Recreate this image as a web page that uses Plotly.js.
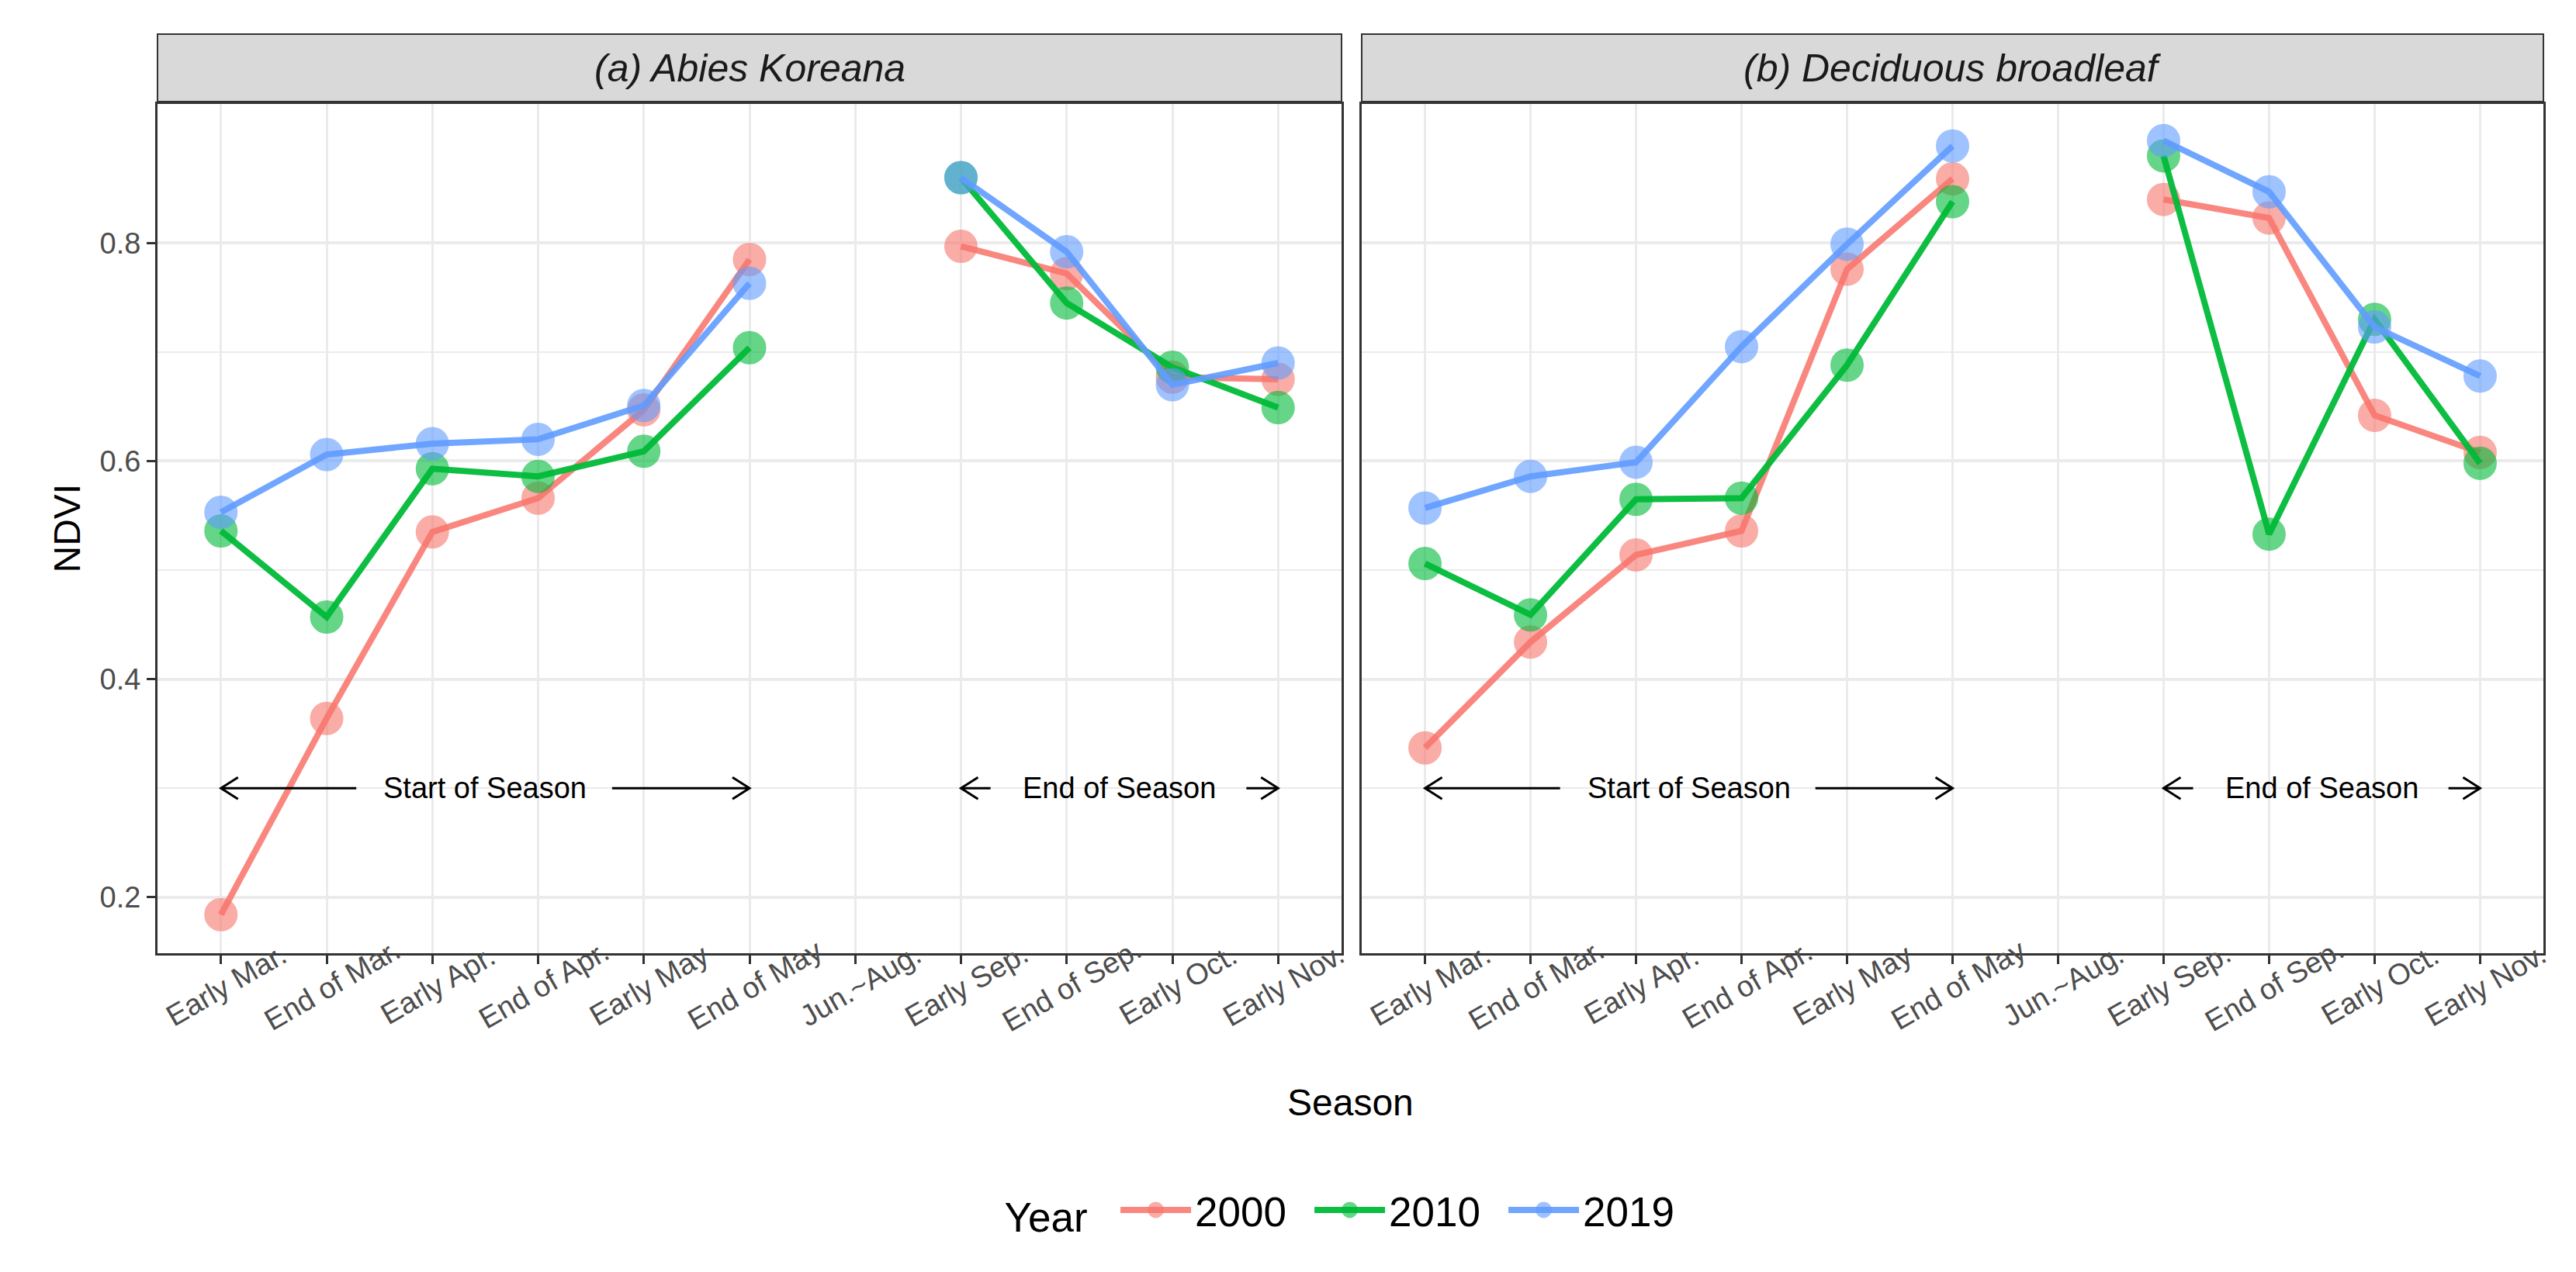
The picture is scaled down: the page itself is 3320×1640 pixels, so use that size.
<!DOCTYPE html>
<html>
<head>
<meta charset="utf-8">
<script src="https://cdn.plot.ly/plotly-3.0.1.min.js"></script>
<style>html,body{margin:0;padding:0;background:#fff;}#chart{width:3320px;height:1640px;}</style>
</head>
<body>
<div id="chart"></div>
<script>
// ---- data ----
const seasons = ["Early Mar.","End of Mar.","Early Apr.","End of Apr.","Early May","End of May","Jun.~Aug.","Early Sep.","End of Sep.","Early Oct.","Early Nov."];
const years = ["2000","2010","2019"];
const panelTitles = ["(a) Abies Koreana","(b) Deciduous broadleaf"];

const abies2000 = [0.184,0.364,0.535,0.566,0.647,0.785,null,0.797,0.772,0.677,0.675];
const abies2010 = [0.536,0.457,0.593,0.586,0.609,0.704,null,0.860,0.745,0.686,0.649];
const abies2019 = [0.553,0.606,0.616,0.620,0.651,0.763,null,0.860,0.792,0.670,0.690];

const decid2000 = [0.337,0.434,0.514,0.536,0.776,0.859,null,0.840,0.823,0.642,0.608];
const decid2010 = [0.506,0.459,0.565,0.566,0.688,0.838,null,0.880,0.533,0.730,0.598];
const decid2019 = [0.557,0.586,0.599,0.705,0.799,0.889,null,0.894,0.847,0.723,0.678];

const yTicks = [0.2,0.4,0.6,0.8];
const yMinor = [0.3,0.5,0.7];
const seasonLabels = ["Start of Season","End of Season"];
const seasonSpans = [[0,5],[7,10]];        // category index spans of the arrows
const seasonTextCenter = [2.5,8.5];
const seasonGaps = [[1.28,3.7],[7.28,9.7]]; // where line is interrupted by the text
const arrowY = 0.3;

// ---- style ----
const baseCols = ["#F8766D","#00BA38","#619CFF"];
const lineCols = ["rgba(248,118,109,0.88)","rgba(0,186,56,0.95)","rgba(97,156,255,0.9)"];
const FONT = "Liberation Sans, Arial, sans-serif";

const H = 1640, W = 3320;
const domA = [203/W, 1729/W], domB = [1755/W, 3278/W];
const domY = [1-1229/H, 1-134/H];
const xRange = [-0.6, 10.6], yRange = [0.1486, 0.9276];

const panelData = [[abies2000,abies2010,abies2019],[decid2000,decid2010,decid2019]];
const traces = [];
panelData.forEach((series,p)=>{
  series.forEach((vals,i)=>{
    traces.push({
      type:"scatter", mode:"lines+markers",
      x: seasons, y: vals,
      xaxis: p===0?"x":"x2", yaxis: p===0?"y":"y2",
      name: years[i], legendgroup: years[i], showlegend: p===0,
      connectgaps:false,
      line:{color:lineCols[i], width:8},
      marker:{color:baseCols[i], opacity:0.6, size:38, line:{color:baseCols[i], width:5}},
      hoverinfo:"skip"
    });
  });
});

const axX = (dom, anchor)=>({
  domain: dom, anchor: anchor, type:"category",
  categoryorder:"array", categoryarray: seasons,
  range: xRange, showgrid:true, gridcolor:"#EBEBEB", gridwidth:3,
  showline:true, mirror:true, linecolor:"#333333", linewidth:3,
  ticks:"outside", ticklen:11, tickwidth:3, tickcolor:"#333333",
  showticklabels:false, zeroline:false, fixedrange:true
});
const axY = (anchor, labels)=>({
  domain: domY, anchor: anchor, range: yRange,
  tickmode:"array", tickvals: yTicks, ticktext: yTicks.map(v=>v.toFixed(1)),
  showgrid:true, gridcolor:"#EBEBEB", gridwidth:4,
  minor:{tickmode:"array", tickvals:yMinor, showgrid:true, gridcolor:"#EBEBEB", gridwidth:2, ticks:""},
  showline:true, mirror:true, linecolor:"#333333", linewidth:3,
  ticks: labels?"outside":"", ticklen:11, tickwidth:3, tickcolor:"#333333",
  showticklabels: labels, tickfont:{family:FONT, size:38, color:"#4D4D4D"},
  zeroline:false, fixedrange:true
});

const shapes = [], annotations = [];
// strips
[domA, domB].forEach((d,p)=>{
  shapes.push({type:"rect", xref:"paper", yref:"paper", x0:d[0], x1:d[1], y0:1-131/H, y1:1-44/H,
    fillcolor:"#D9D9D9", line:{color:"#333333", width:2}, layer:"below"});
  annotations.push({xref:"paper", yref:"paper", x:(d[0]+d[1])/2, y:1-88/H, text:panelTitles[p],
    showarrow:false, xanchor:"center", yanchor:"middle",
    font:{family:FONT, size:50, color:"#1A1A1A", style:"italic"}});
});
// season arrows
["x","x2"].forEach((xr,p)=>{
  const yr = p===0?"y":"y2";
  seasonLabels.forEach((lab,k)=>{
    const sp = seasonSpans[k], gp = seasonGaps[k];
    shapes.push({type:"line", xref:xr, yref:yr, x0:sp[0], x1:gp[0], y0:arrowY, y1:arrowY, line:{color:"#000", width:3}});
    shapes.push({type:"line", xref:xr, yref:yr, x0:gp[1], x1:sp[1], y0:arrowY, y1:arrowY, line:{color:"#000", width:3}});
    shapes.push({type:"path", xref:xr, yref:yr, xsizemode:"pixel", ysizemode:"pixel", xanchor:sp[0], yanchor:arrowY,
      path:"M 22 14 L 0 0 L 22 -14", line:{color:"#000", width:3}});
    shapes.push({type:"path", xref:xr, yref:yr, xsizemode:"pixel", ysizemode:"pixel", xanchor:sp[1], yanchor:arrowY,
      path:"M -22 14 L 0 0 L -22 -14", line:{color:"#000", width:3}});
    annotations.push({xref:xr, yref:yr, x:seasonTextCenter[k], y:arrowY, text:lab, showarrow:false,
      xanchor:"center", yanchor:"middle", font:{family:FONT, size:38, color:"#000"}});
  });
  // rotated x tick labels, centred on ticks like ggplot
  seasons.forEach((s,i)=>{
    annotations.push({xref:xr, yref:"paper", x:i, y:1-1270/H, xshift:7, text:s, textangle:-30,
      showarrow:false, xanchor:"center", yanchor:"middle", font:{family:FONT, size:38, color:"#4D4D4D"}});
  });
});
// axis titles
annotations.push({xref:"paper", yref:"paper", x:1741/W, y:1-1421/H, text:"Season", showarrow:false,
  xanchor:"center", yanchor:"middle", font:{family:FONT, size:48, color:"#000"}});
annotations.push({xref:"paper", yref:"paper", x:86/W, y:(domY[0]+domY[1])/2, text:"NDVI", textangle:-90, showarrow:false,
  xanchor:"center", yanchor:"middle", font:{family:FONT, size:48, color:"#000"}});

const layout = {
  width:W, height:H, margin:{l:0,r:0,t:0,b:0},
  paper_bgcolor:"#FFFFFF", plot_bgcolor:"#FFFFFF",
  font:{family:FONT},
  xaxis: axX(domA,"y"), xaxis2: axX(domB,"y2"),
  yaxis: axY("x", true), yaxis2: Object.assign(axY("x2", false), {matches:"y"}),
  showlegend:true,
  legend:{orientation:"h", x:1741/W, xanchor:"center", y:1-1560/H, yanchor:"middle",
    title:{text:"Year\u00a0\u00a0", side:"left", font:{family:FONT, size:53, color:"#000"}},
    font:{family:FONT, size:53, color:"#000"}, itemwidth:91, entrywidth:144, entrywidthmode:"pixels",
    bgcolor:"rgba(0,0,0,0)"},
  shapes: shapes, annotations: annotations
};

Plotly.newPlot("chart", traces, layout, {staticPlot:true, displayModeBar:false});
</script>
</body>
</html>
